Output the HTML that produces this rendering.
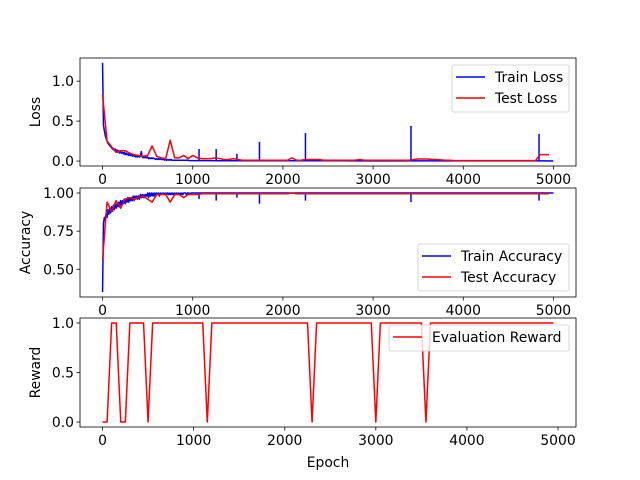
<!DOCTYPE html>
<html><head><meta charset="utf-8"><style>
body{margin:0;background:#fff}
svg{display:block;font-family:"DejaVu Sans","Liberation Sans",sans-serif}
</style></head><body>
<svg id="c" width="640" height="480" xmlns="http://www.w3.org/2000/svg"></svg>
<script>
// ---- data ----
const earlyEpochs = 10;  // step (epochs 0..1000)
const trainLossEarly = [1.23,0.45,0.38,0.32,0.28,0.25,0.22,0.21,0.19,0.18,
0.17,0.15,0.16,0.13,0.15,0.12,0.14,0.11,0.13,0.10,
0.12,0.10,0.11,0.09,0.11,0.08,0.10,0.08,0.09,0.07,
0.09,0.07,0.08,0.06,0.08,0.06,0.07,0.05,0.07,0.05,
0.06,0.05,0.06,0.12,0.05,0.04,0.05,0.04,0.05,0.04,
0.05,0.03,0.04,0.03,0.04,0.03,0.04,0.03,0.03,0.02,
0.03,0.02,0.03,0.02,0.03,0.02,0.02,0.02,0.02,0.01,
0.02,0.01,0.02,0.01,0.02,0.01,0.02,0.01,0.01,0.01,
0.01,0.01,0.01,0.01,0.01,0.01,0.01,0.01,0.01,0.01,
0.01,0.01,0.01,0.01,0.01,0.01,0.005,0.005,0.005,0.005,0.005];
const trainAccEarly = [0.35,0.80,0.84,0.82,0.87,0.84,0.89,0.86,0.90,0.87,
0.91,0.88,0.92,0.89,0.93,0.90,0.93,0.91,0.94,0.91,
0.95,0.92,0.95,0.93,0.96,0.93,0.96,0.94,0.97,0.94,
0.97,0.95,0.97,0.95,0.98,0.95,0.98,0.96,0.98,0.96,
0.98,0.96,0.99,0.97,0.99,0.97,0.99,0.97,0.99,0.98,
1.00,0.97,1.00,0.98,1.00,0.98,1.00,0.98,1.00,0.98,
1.00,0.99,1.00,0.98,1.00,0.99,1.00,0.99,1.00,0.99,
1.00,0.99,1.00,0.99,1.00,0.99,1.00,0.99,1.00,0.99,
1.00,0.99,1.00,0.99,1.00,0.99,1.00,0.99,1.00,0.99,
1.00,1.00,1.00,0.99,1.00,1.00,1.00,0.99,1.00,1.00,1.00];
// late: epochs 1100..5000 step 100
const trainLossLate = [0.005,0.005,0.004,0.004,0.004,0.004,0.003,0.003,0.003,0.003,
0.003,0.003,0.003,0.003,0.003,0.003,0.003,0.002,0.002,0.002,
0.002,0.002,0.002,0.002,0.002,0.002,0.002,0.002,0.002,0.002,
0.002,0.002,0.002,0.002,0.002,0.002,0.002,0.002,0.002,0.0];
const trainAccLate = [1.00,1.00,1.00,1.00,1.00,1.00,1.00,1.00,1.00,1.00,
1.00,1.00,1.00,1.00,1.00,1.00,1.00,1.00,1.00,1.00,
1.00,1.00,1.00,1.00,1.00,1.00,1.00,1.00,1.00,1.00,
1.00,1.00,1.00,1.00,1.00,1.00,1.00,1.00,1.00,1.00];
const spikeEpochs = [1070,1260,1490,1740,2250,3420,4840];
const spikeLoss = [0.15,0.15,0.09,0.24,0.35,0.44,0.34];
const spikeAcc = [0.96,0.95,0.97,0.93,0.95,0.94,0.95];
// test series: epochs 0..4950 step 50
const testLoss = [0.83,0.25,0.18,0.11,0.13,0.13,0.10,0.08,0.07,0.06,
0.07,0.19,0.06,0.04,0.03,0.26,0.04,0.04,0.07,0.03,
0.07,0.04,0.03,0.03,0.03,0.04,0.03,0.02,0.02,0.03,
0.02,0.01,0.01,0.01,0.01,0.01,0.01,0.01,0.01,0.01,
0.01,0.01,0.04,0.01,0.01,0.02,0.02,0.02,0.02,0.01,
0.01,0.01,0.01,0.01,0.01,0.01,0.01,0.02,0.01,0.01,
0.01,0.01,0.01,0.01,0.01,0.01,0.01,0.01,0.01,0.02,
0.025,0.025,0.025,0.02,0.02,0.015,0.01,0.01,0.005,0.005,
0.005,0.005,0.005,0.005,0.005,0.005,0.005,0.005,0.005,0.005,
0.005,0.005,0.005,0.005,0.005,0.005,0.005,0.08,0.08,0.08];
const testAcc = [0.56,0.94,0.88,0.95,0.90,0.96,0.97,0.96,0.97,0.98,
0.96,0.94,0.99,0.99,0.99,0.94,0.99,0.99,0.97,0.99,
0.99,0.99,0.995,0.995,0.995,0.995,0.995,0.995,0.995,0.995,
0.995,0.995,0.995,0.995,0.995,0.995,0.995,0.995,0.995,0.995,
0.995,0.995,1.0,0.995,0.995,0.995,0.995,0.995,0.995,0.995,
0.995,0.995,0.995,0.995,0.995,0.995,0.995,0.995,0.995,0.995,
0.995,0.995,0.995,0.995,0.995,0.995,0.995,0.995,0.995,0.995,
0.995,0.995,0.995,0.995,0.995,0.995,0.995,0.995,0.995,0.995,
0.995,0.995,0.995,0.995,0.995,0.995,0.995,0.995,0.995,0.995,
0.995,0.995,0.995,0.995,0.995,0.995,0.995,0.995,0.995,0.995];
const reward = [0,0,1,1,0,0,1,1,1,1,
0,1,1,1,1,1,1,1,1,1,
1,1,1,0,1,1,1,1,1,1,
1,1,1,1,1,1,1,1,1,1,
1,1,1,1,1,1,0,1,1,1,
1,1,1,1,1,1,1,1,1,1,
0,1,1,1,1,1,1,1,1,1,
1,0,1,1,1,1,1,1,1,1,
1,1,1,1,1,1,1,1,1,1,
1,1,1,1,1,1,1,1,1,1];
const xTicks = [0,1000,2000,3000,4000,5000];
const lossTicks = [0.0,0.5,1.0];
const accTicks = [0.50,0.75,1.00];
const rewardTicks = [0.0,0.5,1.0];

// ---- drawing ----
const svg = document.getElementById('c');
const NS = 'http://www.w3.org/2000/svg';
const FS = '13.9px';
function mk(tag, attrs, parent){const e=document.createElementNS(NS,tag);for(const k in attrs)e.setAttribute(k,attrs[k]);(parent||svg).appendChild(e);return e;}
const L=80,R=576;
const axes = [
 {top:58,bot:166,x0:-250,x1:5250,y0:-0.062,y1:1.29,name:'loss'},
 {top:188,bot:297,x0:-250,x1:5250,y0:0.318,y1:1.033,name:'accuracy'},
 {top:318,bot:427,x0:-247.5,x1:5197.5,y0:-0.05,y1:1.05,name:'reward'}
];
axes.forEach(a=>{
 a.sx=v=>L+(v-a.x0)/(a.x1-a.x0)*(R-L);
 a.sy=v=>a.bot-(v-a.y0)/(a.y1-a.y0)*(a.bot-a.top);
});
function line(a, xs, ys, color, name){
 let d='';xs.forEach((x,i)=>{d+=(i?'L':'M')+a.sx(x).toFixed(2)+','+a.sy(ys[i]).toFixed(2);});
 const p=mk('path',{d:d,fill:'none',stroke:color,'stroke-width':1.5,'stroke-linejoin':'round'});
 
 
 return p;
}
function clip(a,id){const cp=mk('clipPath',{id:id});mk('rect',{x:L,y:a.top,width:R-L,height:a.bot-a.top},cp);}
function frame(a,yt,fmt,label,lx){
 const g=mk('g',{});
 
 
 mk('rect',{x:L,y:a.top,width:R-L,height:a.bot-a.top,fill:'none',stroke:'#000','stroke-width':0.8},g);
 xTicks.forEach(t=>{const x=a.sx(t);mk('line',{x1:x,x2:x,y1:a.bot,y2:a.bot+3.5,stroke:'#000','stroke-width':0.8},g);
  const tx=mk('text',{x:x,y:a.bot+18,'font-size':FS,'text-anchor':'middle',fill:'#000'},g);tx.textContent=t;
  
  });
 yt.forEach(t=>{const y=a.sy(t);mk('line',{x1:L-3.5,x2:L,y1:y,y2:y,stroke:'#000','stroke-width':0.8},g);
  const tx=mk('text',{x:L-6,y:y+5,'font-size':FS,'text-anchor':'end',fill:'#000'},g);tx.textContent=t.toFixed(fmt);
  
  });
 const yl=mk('text',{x:lx,y:(a.top+a.bot)/2,'font-size':FS,'text-anchor':'middle',transform:`rotate(-90 ${lx} ${(a.top+a.bot)/2})`},g);
 yl.textContent=label;
 
 
}
function legend(x,y,w,items,name){
 const g=mk('g',{});
 
 
 mk('rect',{x:x,y:y,width:w,height:items.length*21+5,rx:2,fill:'#fff','fill-opacity':0.8,stroke:'#ccc','stroke-width':0.8},g);
 items.forEach((it,i)=>{const cy=y+12+i*21;
  mk('line',{x1:x+4,x2:x+33,y1:cy,y2:cy,stroke:it[1],'stroke-width':1.5},g);
  const t=mk('text',{x:x+43,y:cy+5,'font-size':FS,fill:'#000'},g);t.textContent=it[0];
  
  });
}
const eE=trainLossEarly.map((_,i)=>i*earlyEpochs);
const lateE=trainLossLate.map((_,i)=>1100+i*100);
const testE=testLoss.map((_,i)=>i*50);
const rewE=reward.map((_,i)=>i*50);
axes.forEach((a,i)=>clip(a,'cl'+i));
// loss
const a0=axes[0];
const g0=mk('g',{'clip-path':'url(#cl0)'});
g0.appendChild(line(a0,eE.concat(lateE),trainLossEarly.concat(trainLossLate),'#0000ff','train-loss-line'));
spikeEpochs.forEach((e,i)=>{g0.appendChild(line(a0,[e,e],[0.003,spikeLoss[i]],'#0000ff','train-loss-spike'));});
g0.appendChild(line(a0,testE,testLoss,'#ff0000','test-loss-line'));
frame(a0,lossTicks,1,'Loss',40);
legend(452,65,117,[['Train Loss','#0000ff'],['Test Loss','#ff0000']],'loss-legend');
// accuracy
const a1=axes[1];
const g1=mk('g',{'clip-path':'url(#cl1)'});
g1.appendChild(line(a1,eE.concat(lateE),trainAccEarly.concat(trainAccLate),'#0000ff','train-accuracy-line'));
spikeEpochs.forEach((e,i)=>{g1.appendChild(line(a1,[e,e],[1.0,spikeAcc[i]],'#0000ff','train-accuracy-dip'));});
g1.appendChild(line(a1,testE,testAcc,'#ff0000','test-accuracy-line'));
frame(a1,accTicks,2,'Accuracy',30);
legend(418,244,151,[['Train Accuracy','#0000ff'],['Test Accuracy','#ff0000']],'accuracy-legend');
// reward
const a2=axes[2];
const g2=mk('g',{'clip-path':'url(#cl2)'});
g2.appendChild(line(a2,rewE,reward,'#ff0000','evaluation-reward-line'));
frame(a2,rewardTicks,1,'Reward',40);
legend(389,325,180,[['Evaluation Reward','#ff0000']],'reward-legend');
const xl=mk('text',{x:328,y:467,'font-size':FS,'text-anchor':'middle'});
xl.textContent='Epoch';


</script>
</body></html>
